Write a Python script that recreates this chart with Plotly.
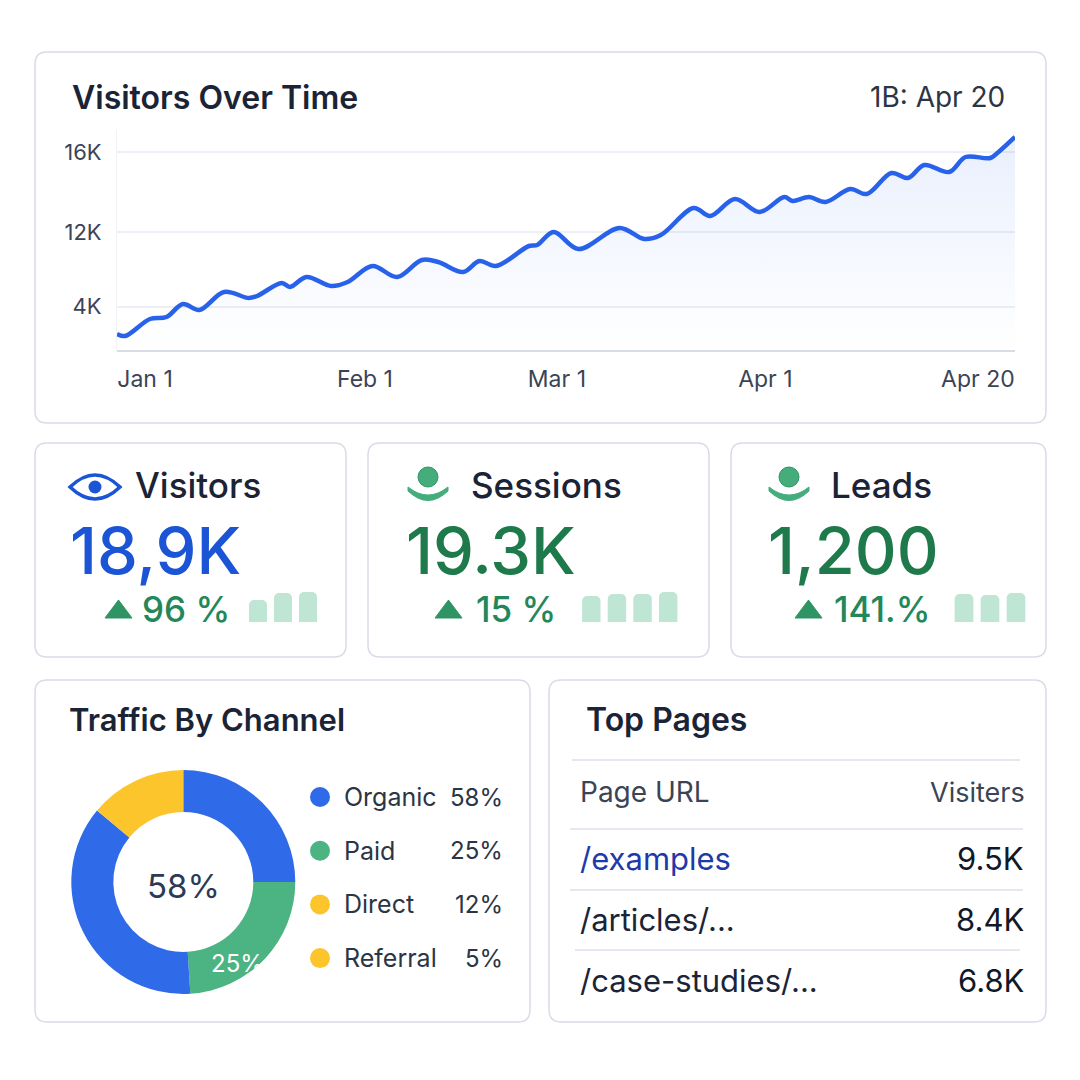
"""Analytics dashboard: visitors over time, KPI cards, channel donut, top pages."""

import plotly.graph_objects as go

PAGE_OFFSET = 8  # default body margin of the page
W = H = 1080 - PAGE_OFFSET
FONT = "Inter"
INK = "#1b2436"
MUTED = "#3b4456"
BLUE = "#2962ea"
GREEN = "#1f7a4b"

# --- Data -------------------------------------------------------------
# Visitors over time (day index from Jan 1, visitors)
days = [0, 1, 4, 6, 8, 10, 13, 16, 17, 20, 21, 23, 26, 28, 31, 34, 37, 39,
        42, 44, 46, 50, 51, 53, 56, 61, 64, 66, 70, 72, 75, 78, 81, 82, 84,
        86, 89, 91, 94, 96, 98, 101, 103, 106, 107, 109]
visitors = [1360, 1200, 2560, 2720, 3760, 3280, 4720, 4240, 4400, 5440,
            5120, 5920, 5200, 5520, 6800, 5920, 7280, 7120, 6320, 7200,
            6800, 8400, 8480, 9520, 8160, 9840, 8960, 9280, 11440, 10800,
            12160, 11120, 12320, 12000, 12320, 11920, 12960, 12560, 14240,
            13840, 14880, 14320, 15520, 15440, 15920, 17120]
y_tick_vals = [3560, 9520, 15920]
y_tick_text = ["4K", "12K", "16K"]
x_tick_vals = [3.4, 30.1, 53.4, 78.7, 104.5]
x_tick_text = ["Jan 1", "Feb 1", "Mar 1", "Apr 1", "Apr 20"]

# KPI cards
kpi_names = ["Visitors", "Sessions", "Leads"]
kpi_values = ["18,9K", "19.3K", "1,200"]
kpi_changes = ["96 %", "15 %", "141.%"]
kpi_bars = [[22, 29, 30], [26, 28, 28, 30], [28, 27, 29]]

# Traffic by channel
channel_labels = ["Organic", "Paid", "Direct", "Referral"]
channel_share = [58, 25, 12, 5]
channel_colors = ["#2f6ae8", "#4cb383", "#fdc52c", "#fdc52c"]
# ring segments as drawn, clockwise from 12 o'clock
ring_share = [25, 24, 37, 14]
ring_colors = ["#2f6ae8", "#4cb383", "#2f6ae8", "#fdc52c"]

# Top pages
page_urls = ["/examples", "/articles/...", "/case-studies/..."]
page_visitors = ["9.5K", "8.4K", "6.8K"]


def X(x):
    return (x - PAGE_OFFSET) / W


def Y(y):
    return 1 - (y - PAGE_OFFSET) / H


def rrect(x0, y0, x1, y1, r=12):
    return (f"M {X(x0 + r)},{Y(y0)} L {X(x1 - r)},{Y(y0)} Q {X(x1)},{Y(y0)} {X(x1)},{Y(y0 + r)} "
            f"L {X(x1)},{Y(y1 - r)} Q {X(x1)},{Y(y1)} {X(x1 - r)},{Y(y1)} "
            f"L {X(x0 + r)},{Y(y1)} Q {X(x0)},{Y(y1)} {X(x0)},{Y(y1 - r)} "
            f"L {X(x0)},{Y(y0 + r)} Q {X(x0)},{Y(y0)} {X(x0 + r)},{Y(y0)} Z")


shapes = []
annotations = []


def text(x, y, s, size, color=INK, anchor="left", weight=400):
    annotations.append(dict(
        x=X(x), y=Y(y), xref="paper", yref="paper", text=s, showarrow=False,
        xanchor=anchor, yanchor="middle",
        font=dict(family=FONT, size=size, color=color, weight=weight),
    ))


# panels
for x0, y0, x1, y1 in [(35, 52, 1046, 423), (35, 443, 346, 657), (368, 443, 709, 657),
                       (731, 443, 1046, 657), (35, 680, 530, 1022), (549, 680, 1046, 1022)]:
    shapes.append(dict(type="path", path=rrect(x0, y0, x1, y1), xref="paper", yref="paper",
                       fillcolor="white", line=dict(color="#d8dce7", width=1.5), layer="below"))

fig = go.Figure()

# --- Visitors over time ---
fig.add_trace(go.Scatter(
    x=days, y=visitors, mode="lines",
    line=dict(color=BLUE, width=4.5, shape="spline", smoothing=1.0),
    fill="tozeroy",
    fillgradient=dict(type="vertical",
                      colorscale=[[0, "rgba(41,98,234,0.0)"], [1, "rgba(41,98,234,0.10)"]]),
    hoverinfo="skip", showlegend=False, xaxis="x", yaxis="y",
))
text(70, 97, "Visitors Over Time", 32, weight=600)
text(1007, 97, "1B: Apr 20", 28, color="#2b3545", anchor="right")

# --- KPI cards ---
card_left = [71, 407, 769]
name_left = [133, 469, 829]
bar_domains = [(245.5, 320.5), (578.5, 681), (951, 1029)]
tri_left = [105, 435, 795]
change_left = [140, 474, 832]
for i in range(3):
    ax = i + 2
    fig.add_trace(go.Bar(
        x=list(range(len(kpi_bars[i]))), y=kpi_bars[i],
        marker=dict(color="#bfe5d5", cornerradius=5, line=dict(width=0)),
        hoverinfo="skip", showlegend=False, xaxis=f"x{ax}", yaxis=f"y{ax}",
    ))
    text(name_left[i], 485, kpi_names[i], 35, weight=500)
    text(card_left[i] - 3, 550, kpi_values[i], 65, color="#1b55d6" if i == 0 else GREEN, weight=500)
    t = tri_left[i]
    shapes.append(dict(type="path", xref="paper", yref="paper",
                       path=f"M {X(t)},{Y(618)} L {X(t + 13.5)},{Y(600)} L {X(t + 27)},{Y(618)} Z",
                       fillcolor="#2f9464", line=dict(color="#2f9464", width=1)))
    text(change_left[i], 609, kpi_changes[i], 35, color="#23875a", weight=500)

# eye icon
shapes.append(dict(type="path", xref="paper", yref="paper",
                   path=f"M {X(70)},{Y(487)} Q {X(95)},{Y(463)} {X(120)},{Y(487)} "
                        f"Q {X(95)},{Y(511)} {X(70)},{Y(487)} Z",
                   fillcolor="rgba(0,0,0,0)", line=dict(color="#1b55d6", width=3.5)))
shapes.append(dict(type="circle", xref="paper", yref="paper",
                   x0=X(88.5), x1=X(101.5), y0=Y(493.5), y1=Y(480.5),
                   fillcolor="#1b55d6", line=dict(width=0)))
# person icons
for cx in [428, 789]:
    shapes.append(dict(type="circle", xref="paper", yref="paper",
                       x0=X(cx - 10), x1=X(cx + 10), y0=Y(487), y1=Y(467),
                       fillcolor="#45ad7c", line=dict(color="#2f9464", width=1)))
    shapes.append(dict(type="path", xref="paper", yref="paper",
                       path=f"M {X(cx - 20)},{Y(487)} Q {X(cx)},{Y(503)} {X(cx + 20)},{Y(487)} "
                            f"L {X(cx + 20)},{Y(491)} Q {X(cx)},{Y(510)} {X(cx - 20)},{Y(491)} Z",
                       fillcolor="#45ad7c", line=dict(color="#45ad7c", width=1)))

# --- Traffic by channel ---
text(67, 719, "Traffic By Channel", 31, weight=600)
fig.add_trace(go.Pie(
    values=ring_share, marker=dict(colors=ring_colors, line=dict(width=0)),
    hole=0.625, sort=False, direction="clockwise", rotation=0,
    textinfo="none", hoverinfo="skip", showlegend=False,
    domain=dict(x=[X(71.3), X(295.3)], y=[Y(994), Y(770)]),
))
text(183, 886, f"{channel_share[0]}%", 33, color="#2b3a55", anchor="center")
text(237, 963, f"{channel_share[1]}%", 24, color="white", anchor="center")
for i, (lab, val, col) in enumerate(zip(channel_labels, channel_share, channel_colors)):
    yy = 797 + i * 53.7
    shapes.append(dict(type="circle", xref="paper", yref="paper",
                       x0=X(310), x1=X(330), y0=Y(yy + 10), y1=Y(yy - 10),
                       fillcolor=col, line=dict(width=0)))
    text(342, yy, lab, 25, color="#2b3545")
    text(505, yy, f"{val}%", 24, color="#2b3545", anchor="right")

# --- Top pages ---
text(584, 719, "Top Pages", 32, weight=600)
for y0, xa, xb in [(760, 572, 1020), (829, 570, 1023), (890, 570, 1023), (950, 575, 1020)]:
    shapes.append(dict(type="line", xref="paper", yref="paper",
                       x0=X(xa), x1=X(xb), y0=Y(y0), y1=Y(y0),
                       line=dict(color="#dde1ea", width=1.5)))
text(578, 792, "Page URL", 28, color=MUTED)
text(1027, 792, "Visiters", 27, color=MUTED, anchor="right")
for i, (url, v) in enumerate(zip(page_urls, page_visitors)):
    yy = 858 + i * 61
    text(578, yy, url, 31, color="#1e3aa8" if i == 0 else "#1b2436")
    text(1026, yy, v, 31, color="#111827", anchor="right")

layout = dict(
    width=W, height=H, margin=dict(l=0, r=0, t=0, b=0),
    paper_bgcolor="white", plot_bgcolor="rgba(0,0,0,0)",
    font=dict(family=FONT, color=MUTED),
    shapes=shapes, annotations=annotations, bargap=0.28,
    xaxis=dict(domain=[X(117), X(1015)], range=[0, 109], tickvals=x_tick_vals,
               ticktext=x_tick_text, showgrid=False, zeroline=False, showline=False,
               ticks="", tickfont=dict(size=23, color=MUTED), ticklabelstandoff=12),
    yaxis=dict(domain=[Y(351), Y(130)], range=[0, 17680], tickvals=y_tick_vals,
               ticktext=y_tick_text, showgrid=True, gridcolor="#eceff5", gridwidth=1.5,
               zeroline=True, zerolinecolor="#d8dce6", zerolinewidth=2,
               showline=True, linecolor="#f1f3f7", ticks="",
               tickfont=dict(size=22, color=MUTED), ticklabelstandoff=10),
)
for i, (d0, d1) in enumerate(bar_domains):
    ax = i + 2
    n = len(kpi_bars[i])
    layout[f"xaxis{ax}"] = dict(domain=[X(d0), X(d1)], range=[-0.5, n - 0.5], visible=False,
                                anchor=f"y{ax}")
    layout[f"yaxis{ax}"] = dict(domain=[Y(622), Y(592)], range=[0, 30], visible=False,
                                anchor=f"x{ax}")

fig.update_layout(**layout)
fig.write_html("out.html")
